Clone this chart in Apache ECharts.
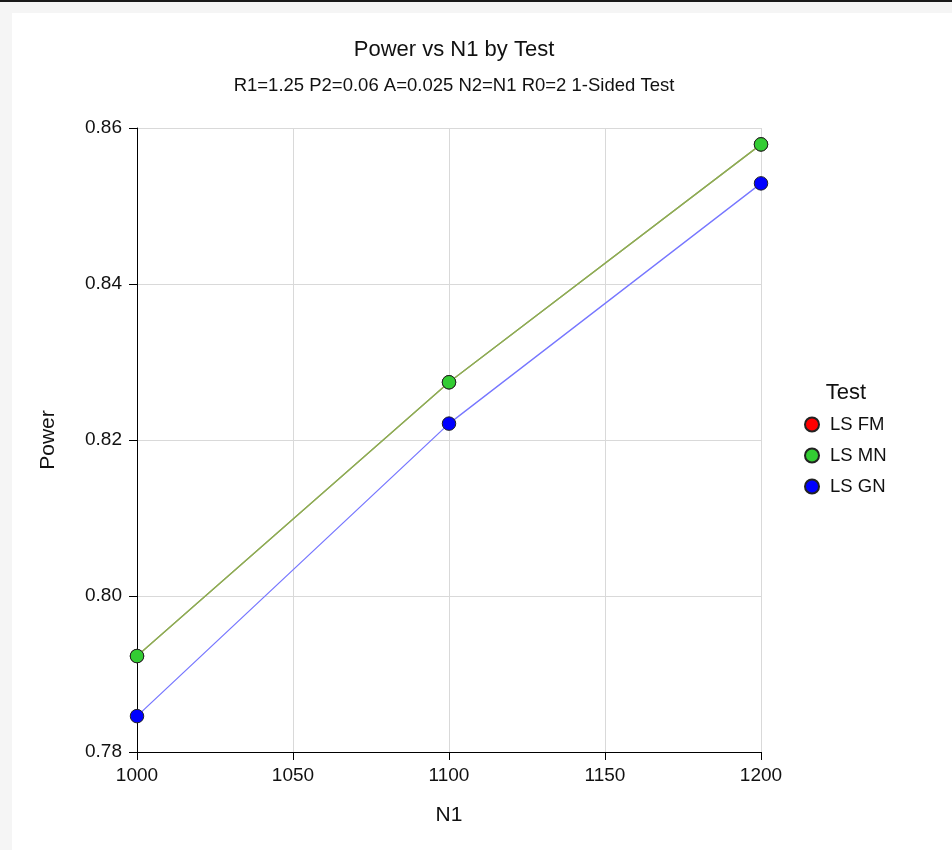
<!DOCTYPE html>
<html>
<head>
<meta charset="utf-8">
<title>Power vs N1 by Test</title>
<script src="https://cdn.jsdelivr.net/npm/echarts@6/dist/echarts.min.js"></script>
<style>
  html, body { margin: 0; padding: 0; background: #f5f5f5; }
  #topBar { position: absolute; left: 0; top: 0; width: 952px; height: 2px; background: #1a1a1a; }
  #panel { position: absolute; left: 12px; top: 13px; width: 940px; height: 837px; background: #ffffff; }
  #chart { position: absolute; left: 0; top: 0; width: 952px; height: 850px; }
</style>
</head>
<body>
<div id="topBar"></div>
<div id="panel"></div>
<div id="chart"></div>
<script>
// data
const n1Values = [1000, 1100, 1200]
const powerFM = [0.7923, 0.8274, 0.8579]
const powerMN = [0.7923, 0.8274, 0.8579]
const powerGN = [0.7846, 0.8221, 0.8529]
const yTicks = [0.78, 0.80, 0.82, 0.84, 0.86]
const xTicks = [1000, 1050, 1100, 1150, 1200]

const font = "Liberation Sans, Arial, sans-serif"

function makeSeries(name, values, color, lineColor, z) {
  return {
    type: "line",
    name: name,
    data: n1Values.map((n, i) => [n, values[i]]),
    symbol: "circle",
    symbolSize: 13.5,
    z: z,
    itemStyle: { color: color, borderColor: "#222", borderWidth: 1 },
    lineStyle: { color: lineColor, width: 1.3 },
    emphasis: { disabled: true },
    animation: false
  }
}

const chart = echarts.init(document.getElementById("chart"))

chart.setOption({
  animation: false,
  title: [
    {
      text: "Power vs N1 by Test",
      left: 449,
      top: 34,
      textAlign: "center",
      textStyle: { fontFamily: font, fontSize: 22, fontWeight: "normal", color: "#111" }
    },
    {
      text: "R1=1.25 P2=0.06 A=0.025 N2=N1 R0=2 1-Sided Test",
      left: 449,
      top: 71,
      textAlign: "center",
      textStyle: { fontFamily: font, fontSize: 18.5, fontWeight: "normal", color: "#111" }
    },
    {
      text: "Test",
      left: 841,
      top: 377,
      textAlign: "center",
      textStyle: { fontFamily: font, fontSize: 22, fontWeight: "normal", color: "#111" }
    }
  ],
  legend: {
    orient: "vertical",
    left: 804,
    top: 415,
    padding: 0,
    itemWidth: 14,
    itemHeight: 14,
    itemGap: 12,
    icon: "circle",
    textStyle: { fontFamily: font, fontSize: 18.5, lineHeight: 19, color: "#111", padding: [0, 0, 0, 6] },
    data: ["LS FM", "LS MN", "LS GN"]
  },
  grid: { left: 137, right: 191, top: 128, bottom: 98 },
  xAxis: {
    type: "value",
    min: xTicks[0],
    max: xTicks[xTicks.length - 1],
    interval: 50,
    name: "N1",
    nameLocation: "middle",
    nameGap: 53,
    nameTextStyle: { fontFamily: font, fontSize: 21, color: "#111", verticalAlign: "top" },
    axisLine: { onZero: false, lineStyle: { color: "#000", width: 1 } },
    axisTick: { show: true, length: 8, lineStyle: { color: "#000" } },
    axisLabel: { margin: 14, fontFamily: font, fontSize: 19, color: "#111", formatter: v => String(v) },
    splitLine: { show: true, lineStyle: { color: "#d9d9d9", width: 1 } }
  },
  yAxis: {
    type: "value",
    min: yTicks[0],
    max: yTicks[yTicks.length - 1],
    interval: 0.02,
    name: "Power",
    nameLocation: "middle",
    nameGap: 78,
    nameRotate: 90,
    nameTextStyle: { fontFamily: font, fontSize: 21, color: "#111" },
    axisLine: { show: true, lineStyle: { color: "#000", width: 1 } },
    axisTick: { show: true, length: 8, lineStyle: { color: "#000" } },
    axisLabel: {
      margin: 15,
      fontFamily: font,
      fontSize: 19,
      color: "#111",
      formatter: v => v.toFixed(2)
    },
    splitLine: { show: true, lineStyle: { color: "#d9d9d9", width: 1 } }
  },
  series: [
    makeSeries("LS FM", powerFM, "#ff0000", "#8fab55", 2),
    makeSeries("LS MN", powerMN, "#33cc33", "#8fab55", 3),
    makeSeries("LS GN", powerGN, "#0000ff", "#7777ff", 4)
  ]
})
</script>
</body>
</html>
